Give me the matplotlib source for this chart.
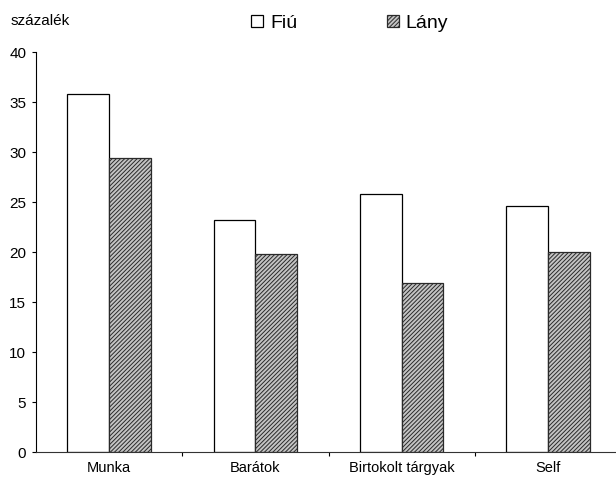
import matplotlib
matplotlib.use("Agg")
import matplotlib.pyplot as plt
import numpy as np

categories = ["Munka", "Barátok", "Birtokolt tárgyak", "Self"]
fiu = [35.8, 23.2, 25.8, 24.6]
lany = [29.4, 19.8, 16.9, 20.0]
series_names = ["Fiú", "Lány"]
y_ticks = [0, 5, 10, 15, 20, 25, 30, 35, 40]
y_label = "százalék"

plt.rcParams['font.family'] = ['Liberation Sans', 'DejaVu Sans']
plt.rcParams['hatch.linewidth'] = 0.7

W, H = 616, 478
fig = plt.figure(figsize=(W / 100, H / 100), dpi=100)
ax = fig.add_axes([36 / W, 25.7 / H, (621 - 36) / W, 400 / H])

x = np.arange(len(categories))
bw = 0.285
b1 = ax.bar(x - bw / 2, fiu, bw, facecolor='white', edgecolor='black', linewidth=0.9)
b2 = ax.bar(x + bw / 2, lany, bw, facecolor='#c4c4c4', edgecolor='#2a2a2a',
            hatch='////////', linewidth=0.9)

ax.set_xlim(-0.5, 3.5)
ax.set_ylim(0, 40)
ax.set_yticks(y_ticks)
ax.set_yticklabels([str(v) for v in y_ticks], fontsize=11)
ax.set_xticks(x)
ax.set_xticklabels(categories, fontsize=10.5)
ax.set_xticks(x[:-1] + 0.5, minor=True)
ax.tick_params(axis='x', which='major', length=0, pad=6)
ax.tick_params(axis='x', which='minor', length=3, width=0.8, direction='out')
ax.tick_params(axis='y', length=3, width=0.8, direction='out', pad=4)

for s in ['top', 'right']:
    ax.spines[s].set_visible(False)
for s in ['left', 'bottom']:
    ax.spines[s].set_linewidth(0.8)
ax.spines['bottom'].set_color('#333333')

fig.text(11 / W, 1 - 25 / H, y_label, fontsize=11, va='baseline', ha='left')

leg = fig.legend([b1, b2], series_names, loc='lower left',
                 bbox_to_anchor=(251 / W, 1 - 32 / H), ncol=2, frameon=False,
                 fontsize=14, handlelength=0.62, handleheight=0.62,
                 handletextpad=0.36, columnspacing=4.6, borderpad=0,
                 borderaxespad=0)

fig.savefig("out.png", dpi=100)
